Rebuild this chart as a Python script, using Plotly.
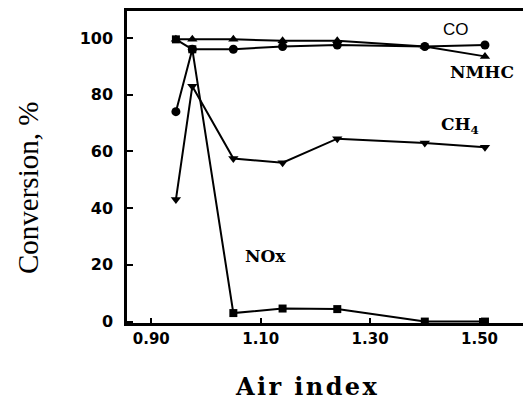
import plotly.graph_objects as go

air_index = [0.945, 0.975, 1.05, 1.14, 1.24, 1.40, 1.51]
co = [74, 96, 96, 97, 97.5, 97, 97.5]
nmhc = [99.5, 99.5, 99.5, 99, 99, 97, 93.5]
ch4 = [43, 83, 57.5, 56, 64.5, 63, 61.5]
nox = [99.5, 96, 3, 4.6, 4.4, 0, 0]

x_ticks = [0.90, 1.10, 1.30, 1.50]
x_ticktext = ["0.90", "1.10", "1.30", "1.50"]
y_ticks = [0, 20, 40, 60, 80, 100]

OFF = 8  # default page body margin
W, H = 531 - OFF, 403 - OFF
L, R, T = 127 - OFF, 0, 11 - OFF
B = H - (323 - OFF)

fig = go.Figure()
line = dict(color="black", width=2)
fig.add_trace(go.Scatter(x=air_index, y=nox, mode="lines+markers", line=line,
                         marker=dict(symbol="square", size=8, color="black")))
fig.add_trace(go.Scatter(x=air_index, y=nmhc, mode="lines+markers", line=line,
                         marker=dict(symbol="triangle-up", size=9, color="black")))
fig.add_trace(go.Scatter(x=air_index, y=ch4, mode="lines+markers", line=line,
                         marker=dict(symbol="triangle-down", size=9, color="black")))
fig.add_trace(go.Scatter(x=air_index, y=co, mode="lines+markers", line=line,
                         marker=dict(symbol="circle", size=9, color="black")))

ann_font_serif = dict(family="DejaVu Serif", size=17, color="black", weight="bold")
fig.add_annotation(x=1.457, y=103, text="CO", showarrow=False,
                   font=dict(family="Liberation Sans", size=17, color="black"))
fig.add_annotation(x=1.505, y=88, text="NMHC", showarrow=False, font=ann_font_serif)
fig.add_annotation(x=1.464, y=69, text="CH<sub>4</sub>", showarrow=False, font=ann_font_serif)
fig.add_annotation(x=1.108, y=23, text="NOx", showarrow=False, font=ann_font_serif)

pw = W - L - R
ph = H - T - B
def px_to_paper_x(px):
    return (px - OFF - L) / pw
def px_to_paper_y(py):
    return (T + ph - (py - OFF)) / ph

hair = "\u200a"
x_title = (" " + "\u2009").join(hair.join(word) for word in "Air index".split(" "))

fig.add_annotation(xref="paper", yref="paper", x=px_to_paper_x(28), y=px_to_paper_y(188),
                   text="Conversion, %", textangle=-90, showarrow=False,
                   xanchor="center", yanchor="middle",
                   font=dict(family="Liberation Serif", size=29, color="black"))
fig.add_annotation(xref="paper", yref="paper", x=px_to_paper_x(306), y=px_to_paper_y(386),
                   text=x_title, showarrow=False,
                   xanchor="center", yanchor="middle",
                   font=dict(family="DejaVu Serif", size=24, color="black", weight="bold"))

x0 = 1.10 - (260.7 - 127) / 547.0
x1 = 1.10 + (531 - 260.7) / 547.0
fig.update_xaxes(range=[x0, x1], tickvals=x_ticks, ticktext=x_ticktext,
                 showline=True, linecolor="black", linewidth=2.5, mirror=True,
                 ticks="inside", ticklen=5, tickwidth=1.5, tickcolor="black",
                 showgrid=False, zeroline=False,
                 tickfont=dict(family="DejaVu Sans", size=15, color="black", weight="bold"))
fig.update_yaxes(range=[-0.5, 109.5], tickvals=y_ticks,
                 showline=True, linecolor="black", linewidth=2.5, mirror=False,
                 ticks="inside", ticklen=6, tickwidth=1.5, tickcolor="black",
                 showgrid=False, zeroline=False, ticklabelstandoff=8,
                 tickfont=dict(family="DejaVu Sans", size=16, color="black", weight="bold"))
fig.update_layout(width=W, height=H, margin=dict(l=L, r=R, t=T, b=B),
                  paper_bgcolor="white", plot_bgcolor="white", showlegend=False)
fig.write_html("out.html")
